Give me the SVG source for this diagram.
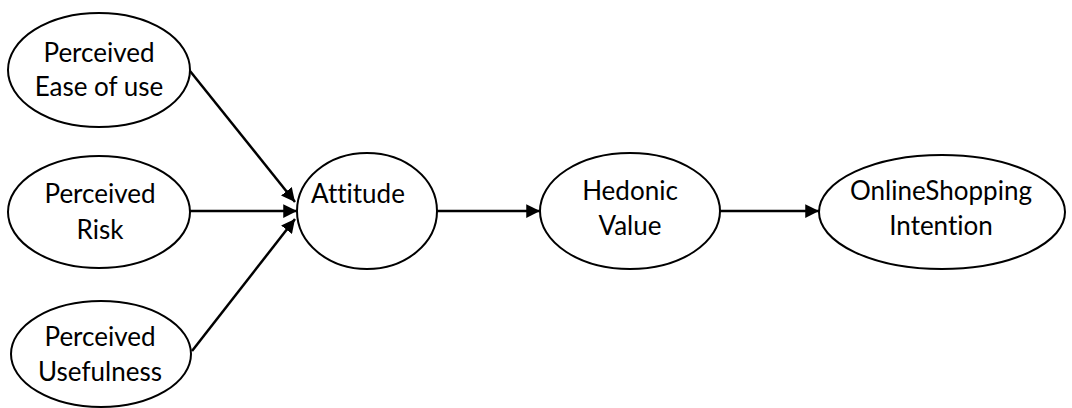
<svg xmlns="http://www.w3.org/2000/svg" width="1072" height="408" viewBox="0 0 1072 408">
<defs>
<style>
.n{fill:#fff;stroke:#000;stroke-width:2}
.t{font-family:Lato,"Open Sans",sans-serif;font-size:26px;fill:#000;text-anchor:middle;font-variant-ligatures:none}
.c{stroke:#000;stroke-width:2.5;fill:none;marker-end:url(#ah)}
</style>
<marker id="ah" viewBox="0 0 10 10" refX="10" refY="5" markerWidth="5.5" markerHeight="5.5" orient="auto" markerUnits="strokeWidth">
<path d="M0,0 L10,5 L0,10 z" fill="#000"/>
</marker>
</defs>
<rect width="1072" height="408" fill="#fff"/>
<g id="connectors">
<line class="c" x1="190" y1="71" x2="295" y2="202"/>
<line class="c" x1="190" y1="211" x2="297" y2="211"/>
<line class="c" x1="192" y1="351" x2="295" y2="219"/>
<line class="c" x1="437" y1="211" x2="540" y2="211"/>
<line class="c" x1="720" y1="211" x2="819" y2="211"/>
</g>
<g id="ease">
<ellipse class="n" cx="99" cy="70" rx="91" ry="57"/>
<text class="t" x="99" y="62">Perceived</text>
<text class="t" x="99" y="96">Ease of use</text>
</g>
<g id="risk">
<ellipse class="n" cx="99" cy="212" rx="91" ry="56"/>
<text class="t" x="100" y="203">Perceived</text>
<text class="t" x="100" y="239">Risk</text>
</g>
<g id="usefulness">
<ellipse class="n" cx="101" cy="354" rx="90" ry="53"/>
<text class="t" x="100" y="346">Perceived</text>
<text class="t" x="100" y="381">Usefulness</text>
</g>
<g id="attitude">
<ellipse class="n" cx="367" cy="211" rx="70" ry="58"/>
<text class="t" x="358" y="203">Attitude</text>
</g>
<g id="hedonic">
<ellipse class="n" cx="630" cy="211" rx="90" ry="58"/>
<text class="t" x="630" y="200">Hedonic</text>
<text class="t" x="630" y="235">Value</text>
</g>
<g id="intention">
<ellipse class="n" cx="942" cy="212" rx="123" ry="57"/>
<text class="t" x="941" y="200">OnlineShopping</text>
<text class="t" x="941" y="235">Intention</text>
</g>
</svg>
